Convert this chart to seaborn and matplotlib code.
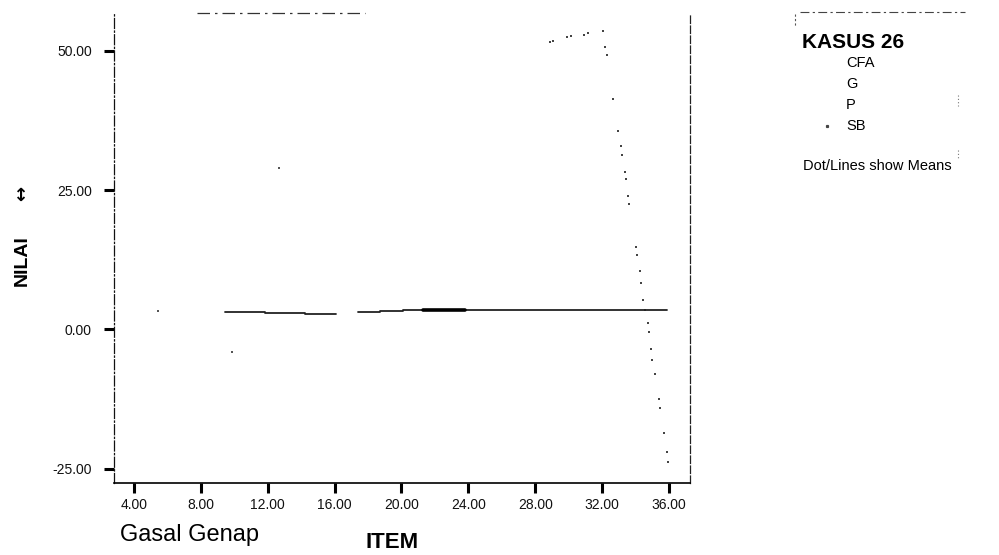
import numpy as np
import pandas as pd
import matplotlib
matplotlib.use("Agg")
import matplotlib.pyplot as plt
import seaborn as sns
from matplotlib.lines import Line2D

sns.set_theme(style="white")
plt.rcParams['font.family'] = ['Liberation Sans', 'DejaVu Sans']

# ---------------- data ----------------
kasus_labels = ["CFA", "G", "P", "SB"]

cfa_item = [9.44, 11.83, 11.83, 14.23, 14.23, 16.08, 17.40, 18.71, 18.71, 20.09, 20.09, 35.88]
cfa_nilai = [3.07, 3.07, 2.89, 2.89, 2.82, 2.82, 3.07, 3.07, 3.30, 3.30, 3.48, 3.48]
cfa_seg = [1, 1, 1, 1, 1, 1, 2, 2, 2, 2, 2, 2]

g_item = [5.44, 9.86]
g_nilai = [3.30, -4.06]

p_item = [12.67, 21.28, 23.80]
p_nilai = [28.96, 3.48, 3.48]
p_seg = [1, 2, 2]

sb_item = [28.88, 29.06, 29.90, 30.14, 30.91, 31.15, 32.05, 32.17, 32.29, 32.65,
           32.95, 33.13, 33.19, 33.37, 33.43, 33.55, 33.61, 34.03, 34.09, 34.27,
           34.33, 34.45, 34.57, 34.75, 34.81, 34.92, 34.98, 35.16, 35.40, 35.46,
           35.70, 35.88, 35.94]
sb_nilai = [51.57, 51.75, 52.38, 52.56, 52.88, 53.13, 53.60, 50.67, 49.24, 41.35,
            35.61, 32.92, 31.29, 28.24, 26.99, 23.94, 22.50, 14.78, 13.35, 10.48,
            8.32, 5.28, 3.48, 1.15, -0.47, -3.52, -5.49, -8.00, -12.49, -14.10,
            -18.59, -22.00, -23.79]

x_ticks = [4, 8, 12, 16, 20, 24, 28, 32, 36]
y_ticks = [-25, 0, 25, 50]

cfa_df = pd.DataFrame({"ITEM": cfa_item, "NILAI": cfa_nilai, "seg": cfa_seg})
p_df = pd.DataFrame({"ITEM": p_item, "NILAI": p_nilai, "seg": p_seg})

# ---------------- figure ----------------
W, H = 999, 555
fig = plt.figure(figsize=(W / 100, H / 100), dpi=100)
fig.patch.set_facecolor("white")

ax = fig.add_axes([114 / W, 1 - 483 / H, (690 - 114) / W, (483 - 13) / H])
ax.set_facecolor("white")

sns.lineplot(data=cfa_df, x="ITEM", y="NILAI", units="seg", estimator=None, sort=False,
             color="#222222", linewidth=1.3, ax=ax, legend=False)
p_line = p_df[p_df["seg"] == 2]
sns.lineplot(data=p_line, x="ITEM", y="NILAI", estimator=None, sort=False,
             color="black", linewidth=2.6, ax=ax, legend=False)
p_pts = p_df[p_df["seg"] == 1]
sns.scatterplot(data=p_pts, x="ITEM", y="NILAI", marker="s", s=3, color="#555555",
                linewidth=0, ax=ax, legend=False)
sns.scatterplot(x=g_item, y=g_nilai, marker="s", s=3, color="#555555", linewidth=0,
                ax=ax, legend=False)
sns.scatterplot(x=sb_item, y=sb_nilai, marker="s", s=2.5, color="#444444", linewidth=0,
                ax=ax, legend=False)

ax.set_xlim(2.80, 37.26)
ax.set_ylim(-27.56, 56.77)
ax.set_xticks(x_ticks)
ax.set_xticklabels([f"{v:.2f}" for v in x_ticks])
ax.set_yticks(y_ticks)
ax.set_yticklabels([f"{v:.2f}" for v in y_ticks])
ax.set_xlabel("")
ax.set_ylabel("")
ax.tick_params(axis="both", direction="out", length=7, width=2.2, color="black",
               labelsize=10, labelcolor="#111111")
ax.tick_params(axis="y", pad=9)
ax.tick_params(axis="x", pad=4)
ax.xaxis.set_ticks_position("bottom")
ax.yaxis.set_ticks_position("left")

ax.spines["top"].set_visible(False)
ax.spines["left"].set_linestyle((0, (8, 2, 1, 2)))
ax.spines["left"].set_linewidth(0.9)
ax.spines["left"].set_color("#111111")
ax.spines["right"].set_linestyle((0, (6, 2)))
ax.spines["right"].set_linewidth(0.9)
ax.spines["right"].set_color("#222222")
ax.spines["bottom"].set_linewidth(1.2)
ax.spines["bottom"].set_color("black")

# partial top frame (faded in the scan)
fig.add_artist(Line2D([197 / W, 365 / W], [1 - 13 / H, 1 - 13 / H], color="#333333",
                      linewidth=0.9, linestyle=(0, (10, 4, 2, 4))))

# axis titles
fig.text(392 / W, 1 - 543 / H, "ITEM", ha="center", va="center", fontsize=16,
         fontweight="bold", color="black")
fig.text(190 / W, 1 - 535 / H, "Gasal Genap", ha="center", va="center", fontsize=17,
         color="black")
fig.text(22 / W, 1 - 261 / H, "NILAI", ha="center", va="center", rotation=90,
         fontsize=14, fontweight="bold", color="black")
fig.text(22 / W, 1 - 193 / H, "\u2194", ha="center", va="center", rotation=90,
         fontsize=13, fontweight="bold", color="black", family=["DejaVu Sans"])

# legend block
fig.add_artist(Line2D([800 / W, 965 / W], [1 - 12 / H, 1 - 12 / H], color="#444444",
                      linewidth=0.8, linestyle=(0, (8, 3, 2, 3))))
fig.add_artist(Line2D([795 / W, 795 / W], [1 - 14 / H, 1 - 26 / H], color="#555555",
                      linewidth=0.8, linestyle=(0, (2, 2))))
fig.add_artist(Line2D([958 / W, 958 / W], [1 - 95 / H, 1 - 106 / H], color="#777777",
                      linewidth=0.8, linestyle=(0, (1, 2))))
fig.add_artist(Line2D([958 / W, 958 / W], [1 - 150 / H, 1 - 160 / H], color="#777777",
                      linewidth=0.8, linestyle=(0, (1, 2))))
fig.text(802 / W, 1 - 43 / H, "KASUS 26", ha="left", va="center", fontsize=15,
         fontweight="bold", color="black")
leg_y = [63, 84, 105, 126]
for lab, yy in zip(kasus_labels, leg_y):
    fig.text(846 / W, 1 - yy / H, lab, ha="left", va="center", fontsize=10.5, color="black")
fig.add_artist(Line2D([827 / W], [1 - 126 / H], marker="s", markersize=1.3,
                      color="#444444", linestyle="none"))
fig.text(803 / W, 1 - 166 / H, "Dot/Lines show Means", ha="left", va="center",
         fontsize=10.5, color="black")

fig.savefig("out.png", dpi=100, facecolor="white")
